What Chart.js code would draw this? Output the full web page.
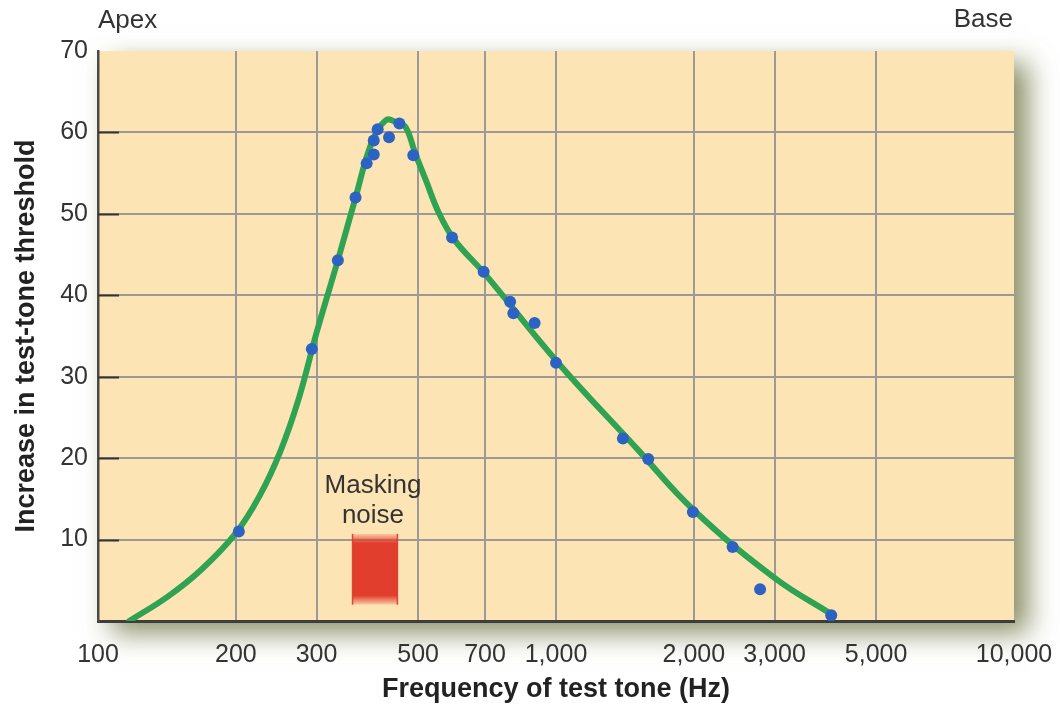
<!DOCTYPE html>
<html>
<head>
<meta charset="utf-8">
<script src="https://cdn.jsdelivr.net/npm/chart.js@4/dist/chart.umd.min.js"></script>
<style>
  body { margin: 0; background: #fff; }
  #wrap { width: 1060px; height: 710px; }
</style>
</head>
<body>
<div id="wrap"><canvas id="tuning" width="1060" height="710"></canvas></div>
<script>
// measured thresholds (Hz, dB increase)
var toneFreq = [203, 293, 334, 365, 386, 400, 400, 408, 432, 455, 488, 593, 695, 794, 807, 898, 1000, 1400, 1590, 1990, 2430, 2790, 3990];
var toneShift = [11.0, 33.4, 44.3, 52.0, 56.2, 57.3, 59.0, 60.4, 59.4, 61.1, 57.2, 47.1, 42.9, 39.2, 37.8, 36.6, 31.7, 22.4, 19.9, 13.4, 9.1, 3.9, 0.7];

// fitted tuning curve
var curveFreq = [117, 142, 168, 200, 225, 250, 275, 300, 334, 365, 395, 425, 450, 470, 493, 520, 555, 600, 700, 1000, 1500, 2000, 3000, 4000];
var curveShift = [0, 3.0, 6.3, 10.8, 15.3, 20.8, 27.5, 35.4, 44.3, 52.0, 58.6, 61.5, 61.2, 60.6, 57.4, 54.1, 50.1, 46.8, 42.6, 32.0, 21.2, 13.6, 5.3, 0.8];

// masking noise band
var noiseBand = [360, 450];
var noiseLevel = [2.0, 10.7];

var xTicks = [100, 200, 300, 500, 700, 1000, 2000, 3000, 5000, 10000];
var yTicks = [0, 10, 20, 30, 40, 50, 60, 70];

var plotBg = '#fde4b5';
var textColor = '#333333';
var fontFamily = '"Liberation Sans", Arial, Helvetica, sans-serif';

var pts = function(xs, ys) {
  return xs.map(function(x, i) { return {x: x, y: ys[i]}; });
};

var frame = {
  id: 'frame',
  beforeDraw: function(chart) {
    var a = chart.chartArea, ctx = chart.ctx;
    ctx.save();
    ctx.shadowColor = 'rgba(100,105,50,0.75)';
    ctx.shadowBlur = 26;
    ctx.shadowOffsetX = 14;
    ctx.shadowOffsetY = 12;
    ctx.fillStyle = plotBg;
    ctx.fillRect(a.left, a.top, a.right - a.left, a.bottom - a.top);
    ctx.restore();
  },
  beforeDatasetsDraw: function(chart) {
    var ctx = chart.ctx, x = chart.scales.x, y = chart.scales.y;
    var a = chart.chartArea;

    // short inward ticks on the y axis
    ctx.save();
    ctx.strokeStyle = '#333';
    ctx.lineWidth = 2;
    yTicks.slice(1, -1).forEach(function(v) {
      var py = Math.round(y.getPixelForValue(v)) + 0.5;
      ctx.beginPath();
      ctx.moveTo(a.left, py);
      ctx.lineTo(a.left + 21, py);
      ctx.stroke();
    });

    // noise band with soft top and bottom edges
    var x0 = x.getPixelForValue(noiseBand[0]);
    var x1 = x.getPixelForValue(noiseBand[1]);
    var yTop = y.getPixelForValue(noiseLevel[1]);
    var yBot = y.getPixelForValue(noiseLevel[0]);
    var h = yBot - yTop;
    var g = ctx.createLinearGradient(0, yTop, 0, yBot);
    g.addColorStop(0, 'rgba(226,62,46,0.15)');
    g.addColorStop(0.13, 'rgba(226,62,46,1)');
    g.addColorStop(0.87, 'rgba(226,62,46,1)');
    g.addColorStop(1, 'rgba(226,62,46,0.15)');
    ctx.fillStyle = g;
    ctx.fillRect(x0, yTop, x1 - x0, h);
    ctx.fillStyle = 'rgba(220,55,40,0.9)';
    ctx.fillRect(x0 - 1, yTop, 1.5, h);
    ctx.fillRect(x1 - 0.5, yTop, 1.5, h);
    ctx.restore();
  },
  afterDraw: function(chart) {
    var ctx = chart.ctx, a = chart.chartArea, x = chart.scales.x, y = chart.scales.y;
    ctx.save();
    ctx.fillStyle = textColor;
    ctx.font = '26px ' + fontFamily;
    ctx.textBaseline = 'middle';
    ctx.textAlign = 'left';
    ctx.fillText('Apex', a.left, 21);
    ctx.textAlign = 'right';
    ctx.fillText('Base', a.right - 1, 20);

    var cx = (x.getPixelForValue(noiseBand[0]) + x.getPixelForValue(noiseBand[1])) / 2;
    var top = y.getPixelForValue(noiseLevel[1]);
    ctx.textAlign = 'center';
    ctx.fillText('Masking', cx - 2, top - 48);
    ctx.fillText('noise', cx - 2, top - 18);
    ctx.restore();
  }
};

var chart = new Chart(document.getElementById('tuning'), {
  type: 'scatter',
  data: {
    datasets: [
      {
        data: pts(toneFreq, toneShift),
        showLine: false,
        pointRadius: 6,
        pointHoverRadius: 6,
        pointBackgroundColor: '#2c63c3',
        pointBorderWidth: 0,
        order: 1
      },
      {
        data: pts(curveFreq, curveShift),
        showLine: true,
        borderColor: '#30a352',
        borderWidth: 6,
        borderCapStyle: 'round',
        pointRadius: 0,
        tension: 0.4,
        order: 2
      }
    ]
  },
  options: {
    responsive: false,
    animation: false,
    layout: { padding: { top: 51, right: 46, left: 0, bottom: 0 } },
    plugins: {
      legend: { display: false },
      tooltip: { enabled: false }
    },
    scales: {
      x: {
        type: 'logarithmic',
        min: 100,
        max: 10000,
        afterBuildTicks: function(scale) {
          scale.ticks = xTicks.map(function(v) { return {value: v}; });
        },
        afterFit: function(scale) {
          scale.height = 89;
          // end labels may hang past the plot, the page padding covers them
          scale.paddingLeft = 0;
          scale.paddingRight = 0;
        },
        ticks: {
          autoSkip: false,
          maxRotation: 0,
          padding: 19,
          color: textColor,
          font: { family: fontFamily, size: 25 },
          callback: function(v) { return Number(v).toLocaleString('en-US'); }
        },
        grid: {
          drawTicks: false,
          lineWidth: 2,
          color: function(ctx) {
            return ctx.tick && ctx.tick.value === 10000 ? 'rgba(0,0,0,0)' : '#9c9a96';
          }
        },
        border: { color: '#3d3d3d', width: 3 },
        title: {
          display: true,
          text: 'Frequency of test tone (Hz)',
          color: '#222',
          font: { family: fontFamily, size: 27, weight: 'bold' },
          padding: { top: 0, bottom: 4 }
        }
      },
      y: {
        min: 0,
        max: 70,
        afterBuildTicks: function(scale) {
          scale.ticks = yTicks.map(function(v) { return {value: v}; });
        },
        afterFit: function(scale) { scale.width = 98; },
        ticks: {
          padding: 10,
          color: textColor,
          font: { family: fontFamily, size: 25 },
          callback: function(v) { return v === 0 ? '' : v; }
        },
        grid: {
          drawTicks: false,
          lineWidth: 2,
          color: function(ctx) {
            var v = ctx.tick && ctx.tick.value;
            return (v === 70 || v === 0) ? 'rgba(0,0,0,0)' : '#9c9a96';
          }
        },
        border: { color: '#4a4a4a', width: 2.5 },
        title: {
          display: true,
          text: 'Increase in test-tone threshold',
          color: '#222',
          font: { family: fontFamily, size: 27, weight: 'bold' },
          padding: { top: 10, bottom: 0 }
        }
      }
    }
  },
  plugins: [frame]
});
</script>
</body>
</html>
